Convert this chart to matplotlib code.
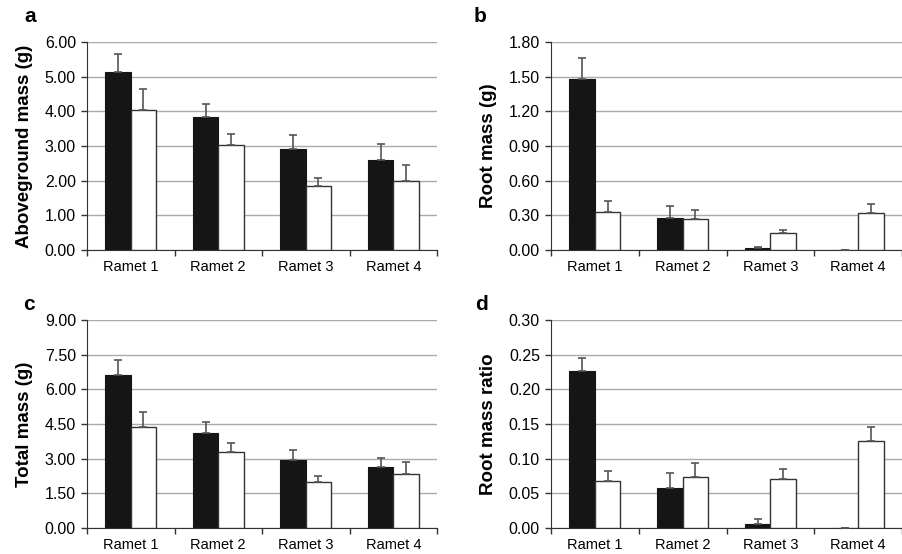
import matplotlib
matplotlib.use("Agg")
import matplotlib.pyplot as plt
import numpy as np

plt.rcParams['font.family'] = ['Liberation Sans', 'DejaVu Sans']

categories = ["Ramet 1", "Ramet 2", "Ramet 3", "Ramet 4"]

# panel a: aboveground mass (g)
a_black = [5.14, 3.83, 2.92, 2.61]
a_black_err = [0.52, 0.38, 0.41, 0.44]
a_white = [4.04, 3.03, 1.84, 2.00]
a_white_err = [0.59, 0.32, 0.23, 0.44]

# panel b: root mass (g)
b_black = [1.483, 0.274, 0.014, 0.0]
b_black_err = [0.179, 0.109, 0.012, 0.0]
b_white = [0.325, 0.271, 0.144, 0.317]
b_white_err = [0.095, 0.077, 0.032, 0.078]

# panel c: total mass (g)
c_black = [6.62, 4.12, 2.95, 2.64]
c_black_err = [0.65, 0.45, 0.41, 0.41]
c_white = [4.38, 3.31, 2.00, 2.33]
c_white_err = [0.65, 0.35, 0.23, 0.51]

# panel d: root mass ratio
d_black = [0.2268, 0.0579, 0.0062, 0.0]
d_black_err = [0.0187, 0.0211, 0.0062, 0.0]
d_white = [0.0675, 0.0732, 0.0713, 0.1249]
d_white_err = [0.0153, 0.0206, 0.0143, 0.0210]

panels = [
    ("a", "Aboveground mass (g)", a_black, a_black_err, a_white, a_white_err, 6.0, 1.0),
    ("b", "Root mass (g)", b_black, b_black_err, b_white, b_white_err, 1.8, 0.3),
    ("c", "Total mass (g)", c_black, c_black_err, c_white, c_white_err, 9.0, 1.5),
    ("d", "Root mass ratio", d_black, d_black_err, d_white, d_white_err, 0.30, 0.05),
]

W, H = 903, 554
fig = plt.figure(figsize=(W / 100, H / 100), dpi=100)

axes_px = {
    "a": (87, 250, 350, 208),
    "b": (551, 250, 351, 208),
    "c": (87, 528, 350, 208),
    "d": (551, 528, 351, 208),
}
letter_px = {"a": (30, 16), "b": (480, 16), "c": (29, 304), "d": (482, 304)}

bw = 0.29
x = np.arange(len(categories))

for letter, ylabel, bk, bke, wh, whe, ymax, step in panels:
    lx, by, aw, ah = axes_px[letter]
    ax = fig.add_axes([lx / W, (H - by) / H, aw / W, ah / H])
    ax.bar(x - bw / 2, bk, width=bw, color="#151515", edgecolor="#151515", linewidth=0.8, zorder=3)
    ax.bar(x + bw / 2, wh, width=bw, color="white", edgecolor="#333333", linewidth=1.0, zorder=3)
    ax.errorbar(x - bw / 2, bk, yerr=[np.zeros(len(bk)), bke], fmt="none",
                ecolor="#555555", elinewidth=1.2, capsize=3, capthick=1.2, zorder=4)
    ax.errorbar(x + bw / 2, wh, yerr=[np.zeros(len(wh)), whe], fmt="none",
                ecolor="#555555", elinewidth=1.2, capsize=3, capthick=1.2, zorder=4)
    ax.set_xlim(-0.5, 3.5)
    ax.set_ylim(0, ymax)
    ticks = np.arange(0, ymax + step / 2, step)
    ax.set_yticks(ticks)
    ax.set_yticklabels([f"{t:.2f}" for t in ticks], fontsize=11.5)
    ax.yaxis.grid(True, color="#ababab", linewidth=1.0, zorder=0)
    ax.set_axisbelow(True)
    ax.set_xticks(x)
    ax.set_xticklabels(categories, fontsize=10.5)
    ax.set_xticks(np.arange(-0.5, 3.6, 1.0), minor=True)
    ax.tick_params(axis="x", which="major", length=0, pad=7)
    ax.tick_params(axis="x", which="minor", length=4, width=1, color="#333333", direction="out")
    ax.tick_params(axis="y", length=4, width=1, color="#333333", pad=4)
    for s in ("top", "right"):
        ax.spines[s].set_visible(False)
    ax.spines["left"].set_color("#333333")
    ax.spines["bottom"].set_color("#333333")
    ax.set_ylabel(ylabel, fontsize=13.5, fontweight="bold")
    ax.yaxis.set_label_coords(-0.155, 0.5)
    px, py = letter_px[letter]
    fig.text(px / W, 1 - py / H, letter, fontsize=15, fontweight="bold", ha="center", va="center")

fig.savefig("out.png", dpi=100)
